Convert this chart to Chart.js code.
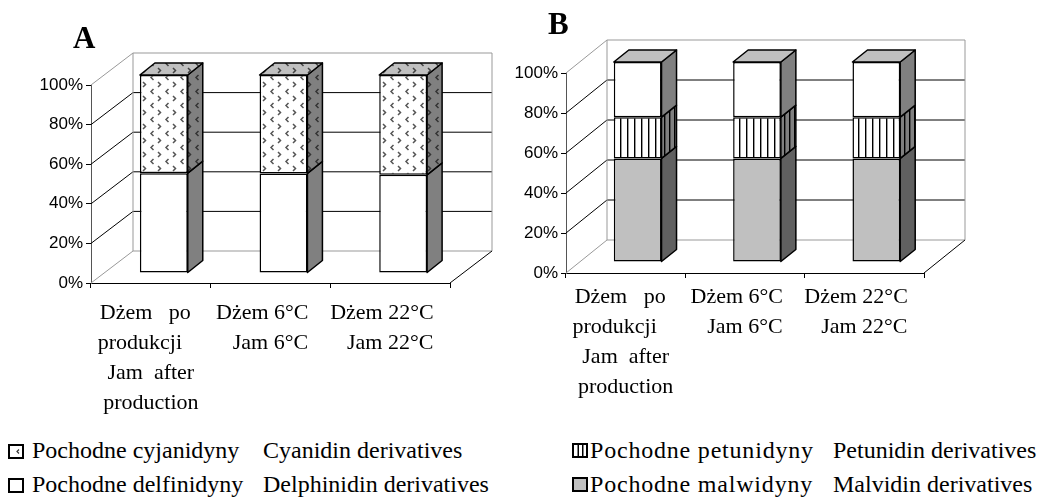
<!DOCTYPE html>
<html>
<head>
<meta charset="utf-8">
<script src="https://cdn.jsdelivr.net/npm/chart.js@4.4.0/dist/chart.umd.min.js"></script>
<style>
  body { margin:0; width:1039px; height:497px; background:#fff; position:relative; overflow:hidden; font-family:'Liberation Serif', serif; }
  canvas.ch { position:absolute; top:0; }
  .panel { position:absolute; font:bold 31px 'Liberation Serif', serif; line-height:31px; }
  .leg { position:absolute; font-size:24px; line-height:24px; white-space:pre; color:#000; }
  .ico { position:absolute; }
</style>
</head>
<body>
<canvas id="chartA" class="ch" width="500" height="425" style="left:0"></canvas>
<canvas id="chartB" class="ch" width="539" height="410" style="left:500px"></canvas>
<div class="panel" style="left:73px;top:22px">A</div>
<div class="panel" style="left:548px;top:8px">B</div>

<canvas class="ico" id="icoCy" width="16" height="15" style="left:8px;top:444px"></canvas>
<canvas class="ico" id="icoDe" width="16" height="15" style="left:8px;top:478px"></canvas>
<canvas class="ico" id="icoPe" width="16" height="15" style="left:572px;top:443px"></canvas>
<canvas class="ico" id="icoMa" width="16" height="15" style="left:572px;top:477px"></canvas>
<div class="leg" style="left:32px;top:438px">Pochodne cyjanidyny</div>
<div class="leg" style="left:263px;top:438px">Cyanidin derivatives</div>
<div class="leg" style="left:32px;top:472px">Pochodne delfinidyny</div>
<div class="leg" style="left:263px;top:472px">Delphinidin derivatives</div>
<div class="leg" style="left:590px;top:438px;letter-spacing:0.8px">Pochodne petunidyny</div>
<div class="leg" style="left:833px;top:438px">Petunidin derivatives</div>
<div class="leg" style="left:590px;top:472px;letter-spacing:0.8px">Pochodne malwidyny</div>
<div class="leg" style="left:833px;top:472px">Malvidin derivatives</div>

<script>
// dane
const kategorie = [
  ['Dżem   po  ', 'produkcji    ', 'Jam  after', 'production'],
  ['Dżem 6°C   ', 'Jam 6°C'],
  ['Dżem 22°C   ', 'Jam 22°C']
];
const yTicks = [0, 20, 40, 60, 80, 100];

// wykres A
const delfinidynyA = [50.4, 50.3, 49.6];
const cyjanidynyA  = [49.6, 49.7, 50.4];

// wykres B
const malwidynyB   = [51.8, 51.8, 51.8];
const petunidynyB  = [20.6, 20.6, 20.6];
const delfinidynyB = [27.6, 27.6, 27.6];

// wzory (kreski, strzalki)
function wzorStrzalki(ctx, tlo, kolor){
  const c = document.createElement('canvas');
  c.width = 15; c.height = 14;
  const g = c.getContext('2d');
  g.fillStyle = tlo; g.fillRect(0, 0, 15, 14);
  g.strokeStyle = kolor; g.lineWidth = 1.5;
  g.beginPath(); g.moveTo(5.5, 1); g.lineTo(3, 3.5); g.lineTo(5.5, 6); g.stroke();
  g.beginPath(); g.moveTo(10, 8); g.lineTo(12.5, 10.5); g.lineTo(10, 13); g.stroke();
  return ctx.createPattern(c, 'repeat');
}
function wzorPaski(ctx, tlo, szer){
  const c = document.createElement('canvas');
  c.width = szer; c.height = 10;
  const g = c.getContext('2d');
  g.fillStyle = tlo; g.fillRect(0, 0, szer, 10);
  g.fillStyle = '#000'; g.fillRect(Math.floor(szer / 2), 0, 1.4, 10);
  return ctx.createPattern(c, 'repeat');
}

// plugin do "3D"
const pudelko3d = {
  id: 'pudelko3d',
  beforeDatasetsDraw(chart, args, o){
    const ctx = chart.ctx, a = chart.chartArea, y = chart.scales.y;
    const d = o.glebia;
    ctx.save();
    ctx.lineWidth = 1;
    yTicks.forEach((v, i) => {
      const py = y.getPixelForValue(v);
      const brzeg = i === 0 || i === yTicks.length - 1;
      ctx.strokeStyle = brzeg ? '#999' : '#000';
      ctx.beginPath();
      ctx.moveTo(a.left, py);
      ctx.lineTo(a.left + d.dx, py + d.dy);
      ctx.lineTo(a.right + d.dx, py + d.dy);
      ctx.stroke();
    });
    const gora = y.getPixelForValue(100) + d.dy, dol = y.getPixelForValue(0) + d.dy;
    ctx.strokeStyle = '#999';
    ctx.beginPath();
    ctx.moveTo(a.left + d.dx, gora); ctx.lineTo(a.left + d.dx, dol);
    ctx.moveTo(a.right + d.dx, gora); ctx.lineTo(a.right + d.dx, dol);
    ctx.stroke();
    ctx.strokeStyle = '#000';
    ctx.beginPath();
    ctx.moveTo(a.right, a.bottom); ctx.lineTo(a.right + d.dx, a.bottom + d.dy);
    ctx.stroke();
    ctx.restore();
    // slupki rysowane w srodku glebokosci
    ctx.save();
    ctx.translate(o.przesun.dx, o.przesun.dy);
  },
  afterDatasetsDraw(chart, args, o){
    const ctx = chart.ctx, b = o.slupek;
    const n = chart.data.datasets.length;
    ctx.lineWidth = 1.5;
    ctx.lineJoin = 'round';
    ctx.strokeStyle = '#000';
    chart.data.datasets.forEach((ds, i) => {
      chart.getDatasetMeta(i).data.forEach(el => {
        const p = el.getProps(['x', 'y', 'base', 'width'], true);
        const l = p.x - p.width / 2, r = p.x + p.width / 2;
        ctx.fillStyle = ds.bok;
        ctx.beginPath();
        ctx.moveTo(r, p.base); ctx.lineTo(r, p.y);
        ctx.lineTo(r + b.dx, p.y + b.dy); ctx.lineTo(r + b.dx, p.base + b.dy);
        ctx.closePath(); ctx.fill(); ctx.stroke();
        if (i === n - 1) {
          ctx.fillStyle = ds.wierzch;
          ctx.beginPath();
          ctx.moveTo(l, p.y); ctx.lineTo(l + b.dx, p.y + b.dy);
          ctx.lineTo(r + b.dx, p.y + b.dy); ctx.lineTo(r, p.y);
          ctx.closePath(); ctx.fill(); ctx.stroke();
        }
      });
    });
    ctx.restore();
  }
};

function opcje(lewo, prawo, gora, dol, wysokosc, glebia, przesun, odstep){
  return {
    responsive: false,
    animation: false,
    devicePixelRatio: 1,
    layout: { padding: { top: gora, right: prawo, left: 0, bottom: 0 } },
    plugins: {
      legend: { display: false },
      tooltip: { enabled: false },
      pudelko3d: { glebia: glebia, przesun: przesun, slupek: { dx: 15, dy: -12 } }
    },
    scales: {
      x: {
        stacked: true,
        grid: { drawOnChartArea: false, drawTicks: true, tickLength: 5, color: '#000' },
        border: { color: '#000', width: 1 },
        ticks: { color: '#000', padding: odstep, maxRotation: 0, autoSkip: false,
                 font: { family: 'Liberation Serif', size: 22, lineHeight: 30 / 22 } },
        afterFit: s => { s.height = wysokosc - dol; }
      },
      y: {
        stacked: true,
        min: 0, max: 100,
        ticks: { stepSize: 20, color: '#000', padding: 3,
                 font: { family: 'Liberation Sans', size: 17 },
                 callback: v => v + '%' },
        grid: { drawOnChartArea: false, drawTicks: true, tickLength: 5, color: '#000' },
        border: { color: '#555', width: 1 },
        afterFit: s => { s.width = lewo; }
      }
    }
  };
}

const ctxA = document.getElementById('chartA').getContext('2d');
const ctxB = document.getElementById('chartB').getContext('2d');

new Chart(ctxA, {
  type: 'bar',
  data: {
    labels: kategorie,
    datasets: [
      { label: 'Pochodne delfinidyny', data: delfinidynyA, backgroundColor: '#fff',
        bok: '#808080', wierzch: '#c0c0c0',
        borderColor: '#000', borderWidth: 1.5, borderSkipped: false,
        barPercentage: 0.4, categoryPercentage: 1 },
      { label: 'Pochodne cyjanidyny', data: cyjanidynyA, backgroundColor: wzorStrzalki(ctxA, '#fff', '#555'),
        bok: wzorStrzalki(ctxA, '#808080', '#333'), wierzch: wzorStrzalki(ctxA, '#c0c0c0', '#444'),
        borderColor: '#000', borderWidth: 1.5, borderSkipped: false,
        barPercentage: 0.4, categoryPercentage: 1 }
    ]
  },
  options: opcje(91, 50, 85, 283, 425, { dx: 42, dy: -32 }, { dx: 13, dy: -10 }, 10),
  plugins: [pudelko3d]
});

new Chart(ctxB, {
  type: 'bar',
  data: {
    labels: kategorie,
    datasets: [
      { label: 'Pochodne malwidyny', data: malwidynyB, backgroundColor: '#c0c0c0',
        bok: '#606060', wierzch: '#c0c0c0',
        borderColor: '#000', borderWidth: 1.5, borderSkipped: false,
        barPercentage: 0.4, categoryPercentage: 1 },
      { label: 'Pochodne petunidyny', data: petunidynyB, backgroundColor: wzorPaski(ctxB, '#fff', 7),
        bok: wzorPaski(ctxB, '#808080', 5), wierzch: '#c0c0c0',
        borderColor: '#000', borderWidth: 1.5, borderSkipped: false,
        barPercentage: 0.4, categoryPercentage: 1 },
      { label: 'Pochodne delfinidyny', data: delfinidynyB, backgroundColor: '#fff',
        bok: '#808080', wierzch: '#c0c0c0',
        borderColor: '#000', borderWidth: 1.5, borderSkipped: false,
        barPercentage: 0.4, categoryPercentage: 1 }
    ]
  },
  options: opcje(66, 115, 73, 273, 410, { dx: 41, dy: -33 }, { dx: 12, dy: -11 }, 4),
  plugins: [pudelko3d]
});

// ikonki legendy
function ikona(id, rysuj){
  const g = document.getElementById(id).getContext('2d');
  rysuj(g);
  g.lineWidth = 2; g.strokeStyle = '#000';
  g.strokeRect(1, 1, 14, 13);
}
ikona('icoCy', g => {
  g.fillStyle = '#fff'; g.fillRect(1, 1, 14, 13);
  g.strokeStyle = '#333'; g.lineWidth = 1.2;
  g.beginPath(); g.moveTo(11, 5.5); g.lineTo(9, 7.5); g.lineTo(11, 9.5); g.stroke();
});
ikona('icoDe', g => { g.fillStyle = '#fff'; g.fillRect(1, 1, 14, 13); });
ikona('icoPe', g => {
  g.fillStyle = '#fff'; g.fillRect(1, 1, 14, 13);
  g.fillStyle = '#000'; g.fillRect(5.5, 1, 1.5, 13); g.fillRect(10, 1, 1.5, 13);
});
ikona('icoMa', g => { g.fillStyle = '#c0c0c0'; g.fillRect(1, 1, 14, 13); });
</script>
</body>
</html>
